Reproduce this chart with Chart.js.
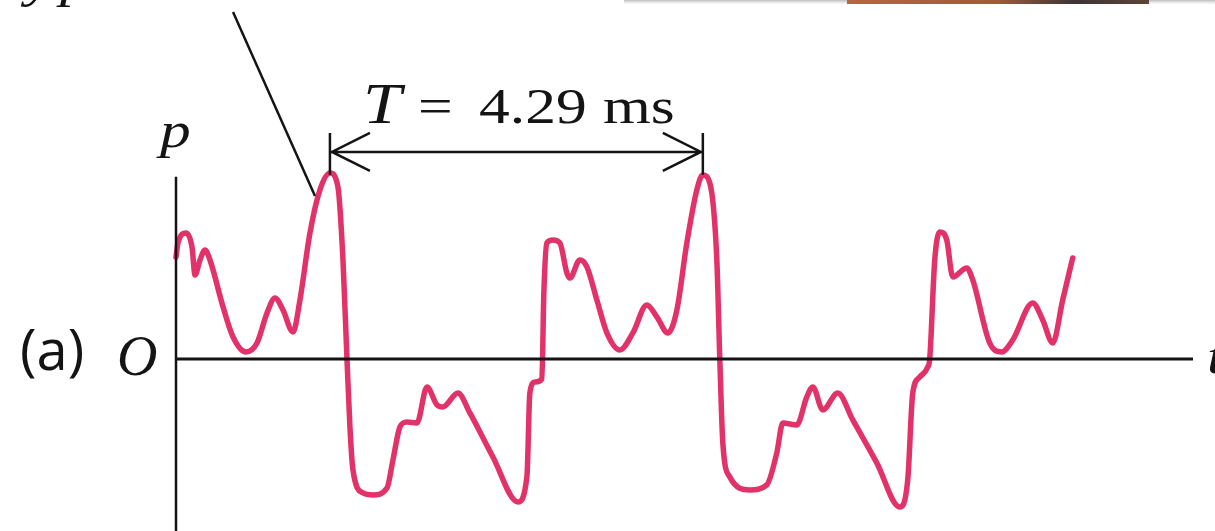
<!DOCTYPE html>
<html>
<head>
<meta charset="utf-8">
<script src="https://cdn.jsdelivr.net/npm/chart.js@4/dist/chart.umd.min.js"></script>
<style>
  html, body { margin: 0; padding: 0; background: #fff; }
  #wrap { width: 1215px; height: 531px; position: relative; }
</style>
</head>
<body>
<div id="wrap"><canvas id="wave" width="1215" height="531"></canvas></div>
<script>
// time (ms) and pressure (relative, first big peak = 1)
const timeMs = [
  0, 0.023, 0.115, 0.184, 0.219, 0.276, 0.334, 0.391, 0.541, 0.656,
  0.805, 0.932, 1.047, 1.139, 1.231, 1.346, 1.426, 1.541, 1.656, 1.771,
  1.863, 1.921, 1.967, 2.001, 2.036, 2.151, 2.266, 2.427, 2.496, 2.576,
  2.657, 2.772, 2.887, 3.002, 3.071, 3.243, 3.381, 3.646, 3.933, 4.037,
  4.071, 4.129, 4.209, 4.232, 4.267, 4.336, 4.416, 4.497, 4.531, 4.646,
  4.727, 4.842, 4.957, 5.106, 5.256, 5.417, 5.532, 5.658, 5.762, 5.877,
  5.992, 6.061, 6.141, 6.222, 6.256, 6.291, 6.371, 6.601, 6.797, 6.912,
  6.981, 7.142, 7.257, 7.326, 7.441, 7.613, 7.786, 8.062, 8.326, 8.418,
  8.476, 8.556, 8.648, 8.671, 8.729, 8.787, 8.867, 8.936, 9.097, 9.166,
  9.361, 9.499, 9.626, 9.856, 9.971, 10.086, 10.201, 10.316
];
const pressure = [
  0.548, 0.624, 0.677, 0.602, 0.452, 0.532, 0.586, 0.532, 0.280, 0.118,
  0.038, 0.086, 0.247, 0.328, 0.263, 0.145, 0.317, 0.677, 0.909, 1.000,
  0.925, 0.532, 0, -0.366, -0.597, -0.720, -0.731, -0.694, -0.543, -0.366,
  -0.339, -0.344, -0.151, -0.247, -0.258, -0.183, -0.290, -0.527, -0.769, -0.634,
  -0.183, -0.124, -0.108, 0.355, 0.624, 0.640, 0.624, 0.462, 0.435, 0.532,
  0.495, 0.317, 0.140, 0.048, 0.140, 0.290, 0.226, 0.140, 0.263, 0.624,
  0.909, 0.989, 0.946, 0.532, 0, -0.452, -0.634, -0.704, -0.677, -0.505,
  -0.344, -0.355, -0.204, -0.151, -0.274, -0.183, -0.328, -0.559, -0.796, -0.651,
  -0.183, -0.097, -0.043, 0, 0.532, 0.683, 0.640, 0.441, 0.489, 0.425,
  0.086, 0.038, 0.102, 0.301, 0.210, 0.086, 0.317, 0.543
];

// period marker between the two big peaks
const PEAK1_T = 1.771;
const PEAK2_T = 6.061;
const PERIOD_LABEL = ['T', '=', '4.29', 'ms'];

const T_MAX = 11.7;
const P_MIN = -0.925, P_MAX = 1.93;
const P_AXIS_TOP = 0.98;

const INK = '#141414';
const WAVE = '#e1336a';
const SERIF = '"Liberation Serif", "DejaVu Serif", serif';
const SX = 1.23; // the figure is stretched sideways

function stretchText(ctx, str, x, y, font, sx) {
  ctx.save();
  ctx.translate(x, y);
  ctx.scale(sx, 1);
  ctx.font = font;
  ctx.fillText(str, 0, 0);
  ctx.restore();
}

const figurePlugin = {
  id: 'figure',
  afterDatasetsDraw(chart) {
    const ctx = chart.ctx;
    const xs = chart.scales.x, ys = chart.scales.y;
    const x0 = xs.getPixelForValue(0);
    const y0 = ys.getPixelForValue(0);

    ctx.save();
    ctx.strokeStyle = INK;
    ctx.fillStyle = INK;
    ctx.lineCap = 'butt';

    // axes
    ctx.lineWidth = 3;
    ctx.beginPath();
    ctx.moveTo(x0, y0);
    ctx.lineTo(xs.getPixelForValue(T_MAX), y0);
    ctx.stroke();
    ctx.lineWidth = 2.5;
    ctx.beginPath();
    ctx.moveTo(x0, ys.getPixelForValue(P_AXIS_TOP));
    ctx.lineTo(x0, chart.height);
    ctx.stroke();

    // period arrow
    const ax1 = xs.getPixelForValue(PEAK1_T);
    const ax2 = xs.getPixelForValue(PEAK2_T);
    const ay = ys.getPixelForValue(1.113);
    const tickTop = ys.getPixelForValue(1.215);
    const tickBot = ys.getPixelForValue(0.99);
    ctx.lineWidth = 2.5;
    ctx.beginPath();
    ctx.moveTo(ax1, ay); ctx.lineTo(ax2, ay);
    ctx.moveTo(ax1, tickTop); ctx.lineTo(ax1, tickBot);
    ctx.moveTo(ax2, tickTop); ctx.lineTo(ax2, tickBot);
    ctx.moveTo(ax1 + 40, ay - 19); ctx.lineTo(ax1 + 2, ay); ctx.lineTo(ax1 + 40, ay + 19);
    ctx.moveTo(ax2 - 40, ay - 19); ctx.lineTo(ax2 - 2, ay); ctx.lineTo(ax2 - 40, ay + 19);
    ctx.stroke();

    // pointer line to the first peak
    ctx.lineWidth = 2.5;
    ctx.beginPath();
    ctx.moveTo(xs.getPixelForValue(0.656), ys.getPixelForValue(1.866));
    ctx.lineTo(xs.getPixelForValue(1.599), ys.getPixelForValue(0.876));
    ctx.stroke();

    // labels
    ctx.textBaseline = 'alphabetic';
    stretchText(ctx, PERIOD_LABEL[0], 363, 123, 'italic 56px ' + SERIF, SX);
    stretchText(ctx, PERIOD_LABEL[1], 418, 123, '50px ' + SERIF, SX);
    stretchText(ctx, PERIOD_LABEL[2], 479, 123, '50px ' + SERIF, SX);
    stretchText(ctx, PERIOD_LABEL[3], 603, 123, '50px ' + SERIF, SX);
    stretchText(ctx, 'p', 160, 147, 'italic 50px ' + SERIF, SX);
    stretchText(ctx, 'O', 117, 375, 'italic 56px ' + SERIF, 1.0);
    stretchText(ctx, '(a)', 20, 370, '56px "Open Sans", sans-serif', 1.0);
    stretchText(ctx, 't', 1207, 373, 'italic 50px ' + SERIF, SX);
    // cut-off caption at the top left
    stretchText(ctx, 'y', 26, -4, 'italic 50px ' + SERIF, SX);
    stretchText(ctx, 'p', 60, -4, 'italic 50px ' + SERIF, SX);

    // edge of the photo above, cut off
    const g = ctx.createLinearGradient(0, 0, 0, 5);
    g.addColorStop(0, '#bdbdbd');
    g.addColorStop(1, 'rgba(230,230,230,0)');
    ctx.fillStyle = g;
    ctx.fillRect(624, 0, 591, 5);
    const b = ctx.createLinearGradient(847, 0, 1149, 0);
    b.addColorStop(0, '#b8653e');
    b.addColorStop(0.5, '#a05a3c');
    b.addColorStop(0.75, '#3e3434');
    b.addColorStop(1, '#5b4438');
    ctx.fillStyle = b;
    ctx.fillRect(847, 0, 302, 4);
    ctx.restore();
  }
};

new Chart(document.getElementById('wave').getContext('2d'), {
  type: 'line',
  data: {
    datasets: [{
      data: timeMs.map((t, i) => ({ x: t, y: pressure[i] })),
      borderColor: WAVE,
      borderWidth: 5.5,
      pointRadius: 0,
      cubicInterpolationMode: 'monotone',
      borderJoinStyle: 'round',
      borderCapStyle: 'round',
      clip: false,
      fill: false
    }]
  },
  options: {
    responsive: false,
    animation: false,
    events: [],
    layout: { padding: { left: 176, right: 22, top: 0, bottom: 0 } },
    plugins: { legend: { display: false }, tooltip: { enabled: false } },
    scales: {
      x: { type: 'linear', min: 0, max: T_MAX, display: false },
      y: { min: P_MIN, max: P_MAX, display: false }
    }
  },
  plugins: [figurePlugin]
});
</script>
</body>
</html>
